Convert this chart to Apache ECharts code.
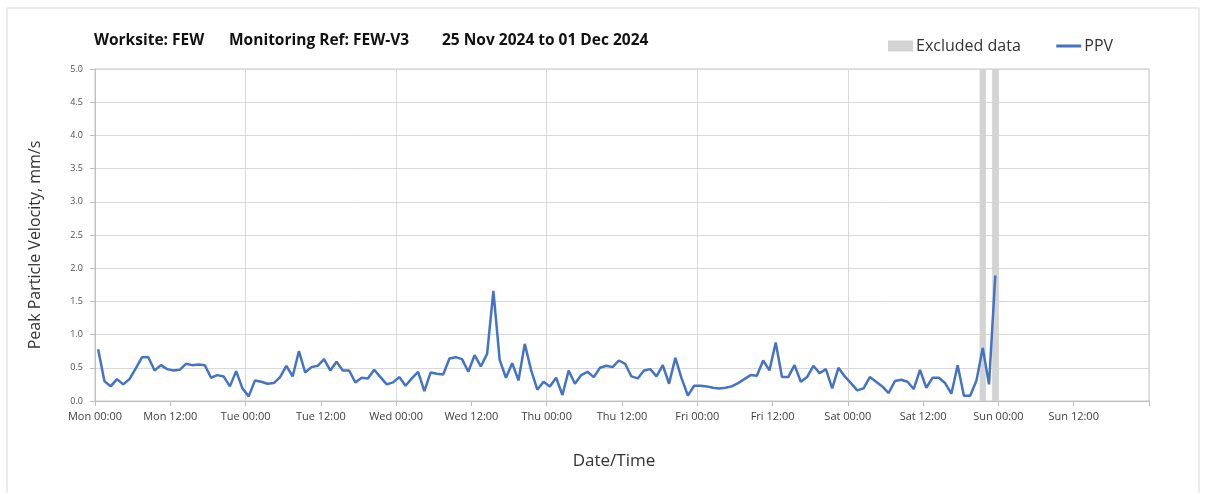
<!DOCTYPE html>
<html>
<head>
<meta charset="utf-8">
<script src="https://cdn.jsdelivr.net/npm/echarts@6/dist/echarts.min.js"></script>
<style>
  html, body { margin: 0; padding: 0; background: #fff; }
  #chart { width: 1207px; height: 493px; }
</style>
</head>
<body>
<div id="chart"></div>
<script>
// tick labels every 12 hours, from Mon 00:00 (hour 0) to Sun 12:00
const tickLabels = [
  'Mon 00:00', 'Mon 12:00', 'Tue 00:00', 'Tue 12:00', 'Wed 00:00', 'Wed 12:00',
  'Thu 00:00', 'Thu 12:00', 'Fri 00:00', 'Fri 12:00', 'Sat 00:00', 'Sat 12:00',
  'Sun 00:00', 'Sun 12:00'
]

// title pieces
const titleParts = ['Worksite: FEW', 'Monitoring Ref: FEW-V3', '25 Nov 2024 to 01 Dec 2024']

// hourly PPV readings (mm/s), first reading at Mon 00:30
const ppv = [
  0.78, 0.30, 0.22, 0.33, 0.25, 0.33, 0.49, 0.66, 0.66, 0.46, 0.54, 0.48,
  0.46, 0.47, 0.56, 0.54, 0.55, 0.54, 0.35, 0.39, 0.37, 0.22, 0.45, 0.19,
  0.07, 0.31, 0.29, 0.26, 0.27, 0.36, 0.53, 0.37, 0.75, 0.43, 0.51, 0.53,
  0.63, 0.46, 0.59, 0.46, 0.46, 0.28, 0.35, 0.34, 0.47, 0.36, 0.25, 0.28,
  0.36, 0.23, 0.34, 0.44, 0.15, 0.43, 0.41, 0.40, 0.64, 0.66, 0.63, 0.44,
  0.69, 0.52, 0.71, 1.66, 0.62, 0.35, 0.57, 0.31, 0.86, 0.47, 0.17, 0.29,
  0.22, 0.35, 0.09, 0.46, 0.26, 0.39, 0.44, 0.36, 0.50, 0.53, 0.51, 0.61,
  0.56, 0.37, 0.34, 0.46, 0.48, 0.37, 0.54, 0.26, 0.65, 0.34, 0.08, 0.23,
  0.23, 0.22, 0.20, 0.19, 0.20, 0.22, 0.27, 0.33, 0.39, 0.38, 0.61, 0.46,
  0.88, 0.36, 0.36, 0.54, 0.29, 0.36, 0.53, 0.42, 0.48, 0.19, 0.50, 0.37,
  0.27, 0.16, 0.19, 0.36, 0.29, 0.22, 0.12, 0.30, 0.32, 0.29, 0.18, 0.47,
  0.20, 0.35, 0.35, 0.27, 0.11, 0.54, 0.08, 0.08, 0.31, 0.80, 0.25, 1.89
]

// excluded periods, hours from Mon 00:00
const excludedStart = [141, 143]
const excludedEnd = [142, 144]

const chart = echarts.init(document.getElementById('chart'))

const ppvData = ppv.map((v, i) => [i + 0.5, v])
const excludedData = excludedStart.map((s, i) => [s, excludedEnd[i]])

const font = "'Open Sans', 'Noto Sans', sans-serif"
const titleLeft = [94, 229, 442]

const option = {
  animation: false,
  textStyle: { fontFamily: font },
  graphic: [{
    type: 'rect',
    shape: { x: 7, y: 8, width: 1192, height: 520 },
    style: { fill: 'none', stroke: '#d9d9d9', lineWidth: 1 },
    silent: true
  }],
  title: titleParts.map((t, i) => ({
    text: t,
    left: titleLeft[i],
    top: 33,
    padding: 0,
    textStyle: { fontSize: 15.5, fontWeight: 'bold', color: '#111', fontFamily: font }
  })),
  legend: {
    left: 883,
    top: 33,
    itemWidth: 25,
    itemHeight: 11,
    itemGap: 34,
    textStyle: { fontSize: 16, color: '#333', fontFamily: font, padding: [0, 0, 0, -2] },
    data: [
      { name: 'Excluded data', icon: 'rect' },
      { name: 'PPV', itemStyle: { opacity: 0 }, lineStyle: { width: 3 } }
    ]
  },
  grid: {
    left: 95,
    right: 58,
    top: 69,
    bottom: 92,
    show: true,
    borderColor: '#c8c8c8',
    borderWidth: 1
  },
  xAxis: [{
    type: 'value',
    min: 0,
    max: 168,
    interval: 12,
    name: 'Date/Time',
    nameLocation: 'middle',
    nameGap: 52,
    nameTextStyle: { fontSize: 17, color: '#333', padding: [0, 16, 0, 0] },
    axisLine: { lineStyle: { color: '#bfbfbf' } },
    axisTick: { show: true, length: 5, lineStyle: { color: '#bfbfbf' } },
    axisLabel: {
      fontSize: 11,
      color: '#404040',
      margin: 10,
      formatter: v => tickLabels[v / 12] || ''
    },
    splitLine: { show: false }
  }, {
    type: 'value',
    min: 0,
    max: 168,
    interval: 24,
    position: 'bottom',
    axisLine: { show: false },
    axisTick: { show: false },
    axisLabel: { show: false },
    splitLine: { show: true, lineStyle: { color: '#d9d9d9' } }
  }],
  yAxis: {
    type: 'value',
    min: 0,
    max: 5,
    interval: 0.5,
    name: 'Peak Particle Velocity, mm/s',
    nameLocation: 'middle',
    nameGap: 52,
    nameTextStyle: { fontSize: 16, color: '#333', padding: [0, 20, 0, 0] },
    axisLine: { show: true, lineStyle: { color: '#bfbfbf' } },
    axisTick: { show: true, length: 5, lineStyle: { color: '#bfbfbf' } },
    axisLabel: {
      fontSize: 9,
      color: '#505050',
      margin: 12,
      formatter: v => v.toFixed(1)
    },
    splitLine: { show: true, lineStyle: { color: '#d9d9d9' } }
  },
  series: [
    {
      name: 'Excluded data',
      type: 'custom',
      xAxisIndex: 0,
      itemStyle: { color: '#d3d3d3' },
      data: excludedData,
      z: 1,
      renderItem: (params, api) => {
        const p0 = api.coord([api.value(0), 5])
        const p1 = api.coord([api.value(1), 0])
        return {
          type: 'rect',
          shape: { x: p0[0], y: p0[1], width: p1[0] - p0[0], height: p1[1] - p0[1] },
          style: { fill: '#d3d3d3' }
        }
      }
    },
    {
      name: 'PPV',
      type: 'line',
      xAxisIndex: 0,
      data: ppvData,
      symbol: 'none',
      showSymbol: false,
      z: 3,
      itemStyle: { color: '#4472c4' },
      lineStyle: { color: '#4472c4', width: 2.5 }
    }
  ]
}

chart.setOption(option)
</script>
</body>
</html>
